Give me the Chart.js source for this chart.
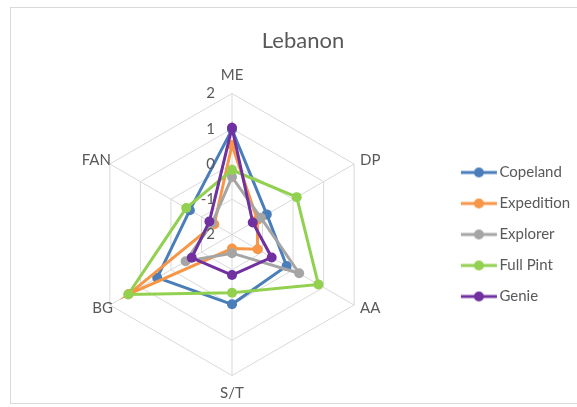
<!DOCTYPE html>
<html>
<head>
<meta charset="utf-8">
<script src="https://cdn.jsdelivr.net/npm/chart.js@4.4.1/dist/chart.umd.min.js"></script>
<style>
  html, body { margin: 0; padding: 0; background: #ffffff; }
  #wrap { position: relative; width: 577px; height: 407px; overflow: hidden; }
  #frame { position: absolute; left: 10px; top: 7px; width: 600px; height: 397px;
           border: 1px solid #d9d9d9; box-sizing: border-box; }
  canvas { position: absolute; left: 0; top: 0; }
</style>
</head>
<body>
<div id="wrap">
  <div id="frame"></div>
  <canvas id="c" width="577" height="407"></canvas>
</div>
<script>
const categories = ['ME', 'DP', 'AA', 'S/T', 'BG', 'FAN'];
const seriesNames = ['Copeland', 'Expedition', 'Explorer', 'Full Pint', 'Genie'];
const copeland   = [0.98, -0.86, -0.21, -0.02, 0.45, -0.62];
const expedition = [0.54, -1.17, -1.16, -1.60, 1.38, -1.42];
const explorer   = [-0.37, -1.05, 0.20, -1.47, -0.48, -1.35];
const fullPint   = [-0.17, 0.12, 0.83, -0.35, 1.40, -0.50];
const genie      = [1.03, -1.32, -0.70, -0.85, -0.68, -1.26];
const tickLabels = ['2', '1', '0', '-1', '-2'];
const tickValues = [2, 1, 0, -1, -2];

const colors = ['#4A7EBB', '#F79646', '#A5A5A5', '#92D050', '#7030A0'];
const values = [copeland, expedition, explorer, fullPint, genie];

const TXT = '#595959';
const FONT = 'Lato, "Open Sans", sans-serif';

function legendIcon(color) {
  const cv = document.createElement('canvas');
  cv.width = 52; cv.height = 12;
  const g = cv.getContext('2d');
  g.strokeStyle = color; g.lineWidth = 3;
  g.beginPath(); g.moveTo(14, 6); g.lineTo(50, 6); g.stroke();
  g.fillStyle = color;
  g.beginPath(); g.arc(32, 6, 5, 0, Math.PI * 2); g.fill();
  return cv;
}
const icons = colors.map(legendIcon);

const labelPlugin = {
  id: 'customLabels',
  afterLayout(chart) {
    const lg = chart.legend;
    if (lg) {
      lg.left += 7; lg.right += 7;
      lg.top += 41; lg.bottom += 41;
    }
  },
  afterDraw(chart) {
    const s = chart.scales.r;
    const ctx = chart.ctx;
    ctx.save();
    ctx.fillStyle = TXT;
    ctx.font = '15px ' + FONT;
    const R = s.drawingArea;
    categories.forEach((lab, i) => {
      const p = s.getPointPosition(i, R);
      let x = p.x, y = p.y;
      ctx.textBaseline = 'middle';
      if (i === 0) { ctx.textAlign = 'center'; y -= 18; }
      else if (i === 3) { ctx.textAlign = 'center'; y += 18; }
      else if (i === 1) { ctx.textAlign = 'left'; x += 6; y -= 4; }
      else if (i === 2) { ctx.textAlign = 'left'; x += 6; y += 3; }
      else if (i === 4) { ctx.textAlign = 'right'; x += 3; y += 3; }
      else { ctx.textAlign = 'right'; x += 1; y -= 4; }
      ctx.fillText(lab, x, y);
    });
    ctx.textAlign = 'right';
    ctx.textBaseline = 'middle';
    tickValues.forEach((v, k) => {
      const p = s.getPointPositionForValue(0, v);
      ctx.fillText(tickLabels[k], p.x - 17, p.y);
    });
    ctx.restore();
  }
};

new Chart(document.getElementById('c'), {
  type: 'radar',
  data: {
    labels: categories,
    datasets: seriesNames.map((name, i) => ({
      label: name,
      data: values[i],
      borderColor: colors[i],
      backgroundColor: colors[i],
      pointBackgroundColor: colors[i],
      pointBorderColor: colors[i],
      borderWidth: 3,
      pointRadius: 5,
      pointBorderWidth: 0,
      fill: false,
      order: 5 - i
    }))
  },
  options: {
    responsive: false,
    animation: false,
    devicePixelRatio: 1,
    layout: { padding: { top: 0, bottom: 20, left: 33, right: 4 } },
    plugins: {
      title: {
        display: true,
        text: 'Lebanon',
        color: TXT,
        font: { family: FONT, size: 22, weight: 'normal' },
        padding: { top: 28, bottom: 10 }
      },
      legend: {
        position: 'right',
        labels: {
          color: TXT,
          font: { family: FONT, size: 15 },
          usePointStyle: true,
          pointStyleWidth: 38,
          padding: 16,
          generateLabels(chart) {
            return chart.data.datasets.map((ds, i) => ({
              text: ds.label,
              fillStyle: colors[i],
              strokeStyle: colors[i],
              lineWidth: 0,
              pointStyle: icons[i],
              fontColor: TXT,
              datasetIndex: i,
              hidden: false
            }));
          }
        }
      },
      tooltip: { enabled: false }
    },
    scales: {
      r: {
        min: -2,
        max: 2,
        ticks: { display: false, stepSize: 1 },
        pointLabels: { display: false },
        grid: { color: '#d9d9d9', lineWidth: 1 },
        angleLines: { color: '#d9d9d9', lineWidth: 1 },
        afterFit(s) {
          s.xCenter = 232;
          s.yCenter = 234.5;
          s.drawingArea = 141;
        }
      }
    }
  },
  plugins: [labelPlugin]
});
</script>
</body>
</html>
